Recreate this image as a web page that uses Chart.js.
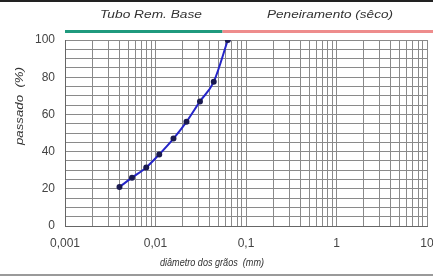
<!DOCTYPE html>
<html>
<head>
<meta charset="UTF-8">
<title>Curva granulométrica</title>
<script src="https://cdn.jsdelivr.net/npm/chart.js"></script>
<style>
  body { margin: 0; background: #fff; }
  #wrap { width: 433px; height: 276px; }
</style>
</head>
<body>
<div id="wrap"><canvas id="granChart" width="433" height="276"></canvas></div>
<script>
  // diâmetro (mm) e % passado
  const diametros = [0.004, 0.0055, 0.0079, 0.011, 0.0158, 0.022, 0.031, 0.044, 0.063];
  const passado   = [21, 26, 31.5, 38.5, 47, 56, 67, 77.5, 100];

  const decadas   = [0.001, 0.01, 0.1, 1, 10];
  const decLabels = ['0,001', '0,01', '0,1', '1', '10'];
  const yLabels   = [0, 20, 40, 60, 80, 100];

  // faixas do topo: [de, até, texto, cor]
  const faixas = [
    [0.001, 0.055, 'Tubo Rem. Base', '#1f9a7e'],
    [0.055, 10, 'Peneiramento (sêco)', '#ee8c8c']
  ];

  const logTicks = [];
  for (let e = -3; e <= 0; e++) {
    for (let m = 1; m <= 9; m++) logTicks.push(m * Math.pow(10, e));
  }
  logTicks.push(10);

  // texto esticado/comprimido para a largura vista na imagem
  function textoLargura(ctx, txt, cx, cy, w) {
    const k = w / ctx.measureText(txt).width;
    ctx.save();
    ctx.translate(cx, cy);
    ctx.scale(k, 1);
    ctx.fillText(txt, 0, 0);
    ctx.restore();
  }

  const extras = {
    id: 'extras',
    afterDraw(chart) {
      const ctx = chart.ctx;
      const xs = chart.scales.x;
      ctx.save();
      // bordas recortadas
      ctx.fillStyle = '#222';
      ctx.fillRect(0, 0, 433, 2);
      ctx.fillStyle = '#9a9a9a';
      ctx.fillRect(0, 274, 433, 2);
      // faixas
      ctx.font = 'italic 10px "Liberation Sans", Arial, sans-serif';
      ctx.textAlign = 'center';
      ctx.textBaseline = 'middle';
      const pos = [[151, 102], [330, 126]];
      faixas.forEach((f, i) => {
        const x0 = xs.getPixelForValue(f[0]);
        const x1 = i === faixas.length - 1 ? 433 : xs.getPixelForValue(f[1]);
        ctx.fillStyle = f[3];
        ctx.fillRect(x0, 30, x1 - x0, 3);
        ctx.fillStyle = '#333';
        textoLargura(ctx, f[2], pos[i][0], 15, pos[i][1]);
      });
      // títulos dos eixos
      ctx.fillStyle = '#333';
      ctx.font = 'italic 11px "Liberation Sans", Arial, sans-serif';
      textoLargura(ctx, 'diâmetro dos grãos  (mm)', 212, 263, 104);
      ctx.translate(20, 106);
      ctx.rotate(-Math.PI / 2);
      textoLargura(ctx, 'passado  (%)', 0, 0, 78);
      ctx.restore();
    }
  };

  new Chart(document.getElementById('granChart'), {
    type: 'line',
    data: {
      datasets: [{
        data: diametros.map((d, i) => ({ x: d, y: passado[i] })),
        borderColor: '#2525c8',
        borderWidth: 2,
        pointRadius: 2,
        pointBackgroundColor: '#1a1a50',
        pointBorderColor: '#1a1a50',
        cubicInterpolationMode: 'monotone'
      }]
    },
    options: {
      responsive: false,
      animation: false,
      layout: { padding: { top: 40, right: 6, left: 0, bottom: 0 } },
      plugins: { legend: { display: false }, tooltip: { enabled: false } },
      scales: {
        x: {
          type: 'logarithmic',
          min: 0.001,
          max: 10,
          afterBuildTicks: (s) => { s.ticks = logTicks.map(v => ({ value: v })); },
          afterFit: (s) => { s.height = 50; s.paddingLeft = 0; s.paddingRight = 0; },
          grid: { color: '#8a8a8a', lineWidth: 1, drawTicks: false },
          border: { color: '#666' },
          ticks: {
            autoSkip: false,
            maxRotation: 0,
            padding: 10,
            color: '#444',
            font: { size: 12, family: '"Liberation Sans", Arial, sans-serif' },
            callback: (v) => {
              const k = decadas.findIndex(d => Math.abs(d - v) / d < 1e-6);
              return k >= 0 ? decLabels[k] : '';
            }
          }
        },
        y: {
          min: 0,
          max: 100,
          afterFit: (s) => { s.width = 65; s.paddingTop = 0; s.paddingBottom = 0; },
          grid: { color: '#8a8a8a', lineWidth: 1, drawTicks: false },
          border: { color: '#666' },
          ticks: {
            stepSize: 5,
            autoSkip: false,
            padding: 10,
            color: '#444',
            font: { size: 12, family: '"Liberation Sans", Arial, sans-serif' },
            callback: (v) => yLabels.includes(v) ? String(v) : ''
          }
        }
      }
    },
    plugins: [extras]
  });
</script>
</body>
</html>
